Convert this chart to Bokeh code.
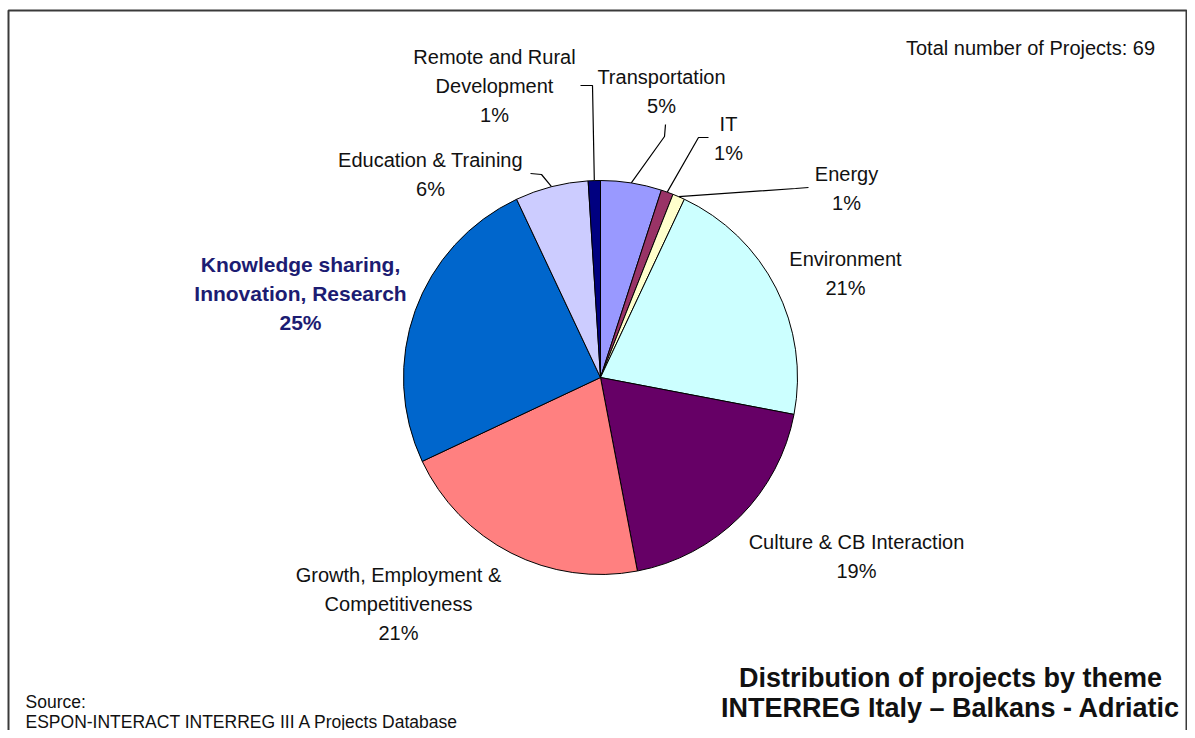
import math
from bokeh.plotting import figure
from bokeh.models import Range1d, ColumnDataSource
from bokeh.core.properties import value
from bokeh.embed import file_html
from bokeh.resources import INLINE

# ---------------- data ----------------
themes = ["Transportation", "IT", "Energy", "Environment",
          "Culture & CB Interaction", "Growth, Employment &\nCompetitiveness",
          "Knowledge sharing,\nInnovation, Research", "Education & Training",
          "Remote and Rural\nDevelopment"]
shares = [5, 1, 1, 21, 19, 21, 25, 6, 1]
colors = ["#9999FF", "#993366", "#FFFFCC", "#CCFFFF", "#660066",
          "#FF8080", "#0066CC", "#CCCCFF", "#000080"]
total_projects = 69
title_lines = ["Distribution of projects by theme",
               "INTERREG Italy \u2013 Balkans - Adriatic"]
source_lines = ["Source:", "ESPON-INTERACT INTERREG III A Projects Database"]

# ---------------- layout (pixel coordinates from top-left) ----------------
W, H = 1187, 730
def Y(py):
    return H - py

CX, CY, R = 600, 377, 197
label_pos = {  # centre x, first line y
    "Transportation": (661, 76),
    "IT": (728, 123),
    "Energy": (846, 173),
    "Environment": (845, 258),
    "Culture & CB Interaction": (856, 541),
    "Growth, Employment &\nCompetitiveness": (398, 574),
    "Knowledge sharing,\nInnovation, Research": (300, 264),
    "Education & Training": (430, 159),
    "Remote and Rural\nDevelopment": (494, 56),
}
leader_knees = {
    "Transportation": [(665, 124), (664, 136)],
    "IT": [(708, 137), (698, 137)],
    "Energy": [(808, 187), (795, 188)],
    "Education & Training": [(530, 173), (541, 174)],
    "Remote and Rural\nDevelopment": [(580, 85), (592, 85)],
}
LINE_H = 29

p = figure(width=W, height=H, output_backend="svg", toolbar_location=None,
           x_range=Range1d(0, W), y_range=Range1d(0, H),
           min_border=0, outline_line_color=None)
p.axis.visible = False
p.grid.visible = False
p.background_fill_color = "white"
p.border_fill_color = "white"

# frame
p.line([8, 8, 1186, 1186], [Y(740), Y(10), Y(10), Y(740)],
       line_color="#3a3a3a", line_width=2)

# pie
tot = sum(shares)
starts, ends, mids = [], [], []
cum = 0.0
for s in shares:
    a0 = cum / tot
    cum += s
    a1 = cum / tot
    starts.append(math.pi / 2 - 2 * math.pi * a1)
    ends.append(math.pi / 2 - 2 * math.pi * a0)
    mids.append((a0 + a1) / 2 * 2 * math.pi)  # clockwise from top
src = ColumnDataSource(dict(start=starts, end=ends, color=colors))
p.wedge(x=CX, y=Y(CY), radius=R, start_angle="start", end_angle="end",
        fill_color="color", line_color="black", line_width=1, source=src)

# leader lines
for i, th in enumerate(themes):
    if th in leader_knees:
        pts = list(leader_knees[th])
        ex = CX + R * math.sin(mids[i])
        ey = CY - R * math.cos(mids[i])
        pts.append((ex, ey))
        p.line([q[0] for q in pts], [Y(q[1]) for q in pts],
               line_color="black", line_width=1.2)

# labels
font = value("Liberation Sans")
for th, sh in zip(themes, shares):
    lines = th.split("\n") + [f"{sh}%"]
    cx, y0 = label_pos[th]
    bold = th.startswith("Knowledge")
    p.text(x=[cx] * len(lines), y=[Y(y0 + k * LINE_H) for k in range(len(lines))],
           text=lines, text_align="center", text_baseline="middle",
           text_font=font, text_font_size="20px" if not bold else "21px",
           text_font_style="bold" if bold else "normal",
           text_color="#1c1c72" if bold else "#111111")

p.text(x=[1030], y=[Y(47)], text=[f"Total number of Projects: {total_projects}"],
       text_align="center", text_baseline="middle", text_font=font,
       text_font_size="20px", text_color="#111111")

p.text(x=[950, 950], y=[Y(677), Y(707)], text=title_lines,
       text_align="center", text_baseline="middle", text_font=font,
       text_font_size="27px", text_font_style="bold", text_color="#111111")

p.text(x=[25, 25], y=[Y(701), Y(721)], text=source_lines,
       text_align="left", text_baseline="middle", text_font=font,
       text_font_size="17.5px", text_color="#111111")

open("out.html", "w").write(file_html(p, INLINE))
